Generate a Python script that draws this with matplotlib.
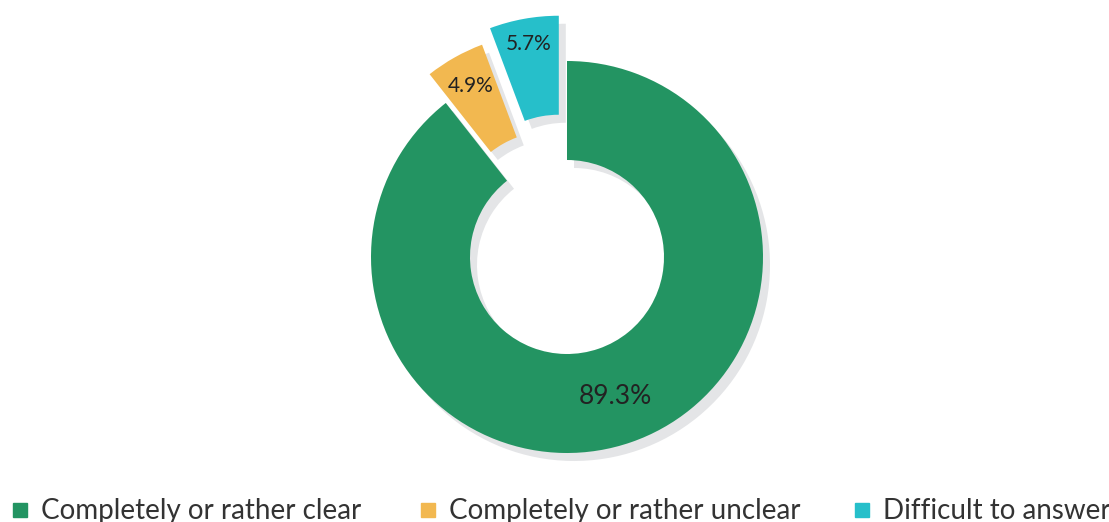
import numpy as np
import matplotlib
matplotlib.use("Agg")
import matplotlib.pyplot as plt
from matplotlib.patches import Rectangle

labels = ["Completely or rather clear", "Completely or rather unclear", "Difficult to answer"]
values = [89.3, 4.9, 5.7]
colors = ["#239462", "#f2b850", "#26bfca"]
explode = [0, 33, 46]          # pixels of pull-out
label_r = [0.755, 0.83, 0.87]  # radial position of value labels

W, H = 1109, 522
cx, cy, R, ring = 567, H - 257, 196, 99

fig = plt.figure(figsize=(W / 100, H / 100), dpi=100)
ax = fig.add_axes([0, 0, 1, 1])

# soft gray shadow, shifted right/down
ax.pie(values, startangle=90, counterclock=False, radius=R, center=(cx + 7, cy - 8),
       explode=explode, colors=["#e4e5e7"] * 3, wedgeprops=dict(width=ring, edgecolor="none"),
       frame=True)
wedges, _ = ax.pie(values, startangle=90, counterclock=False, radius=R, center=(cx, cy),
                   explode=explode, colors=colors, wedgeprops=dict(width=ring, edgecolor="none"),
                   frame=True)
ax.set_xlim(0, W); ax.set_ylim(0, H); ax.set_aspect("equal"); ax.axis("off")

for w, v, f, fs in zip(wedges, values, label_r, [19, 15, 15]):
    a = np.deg2rad((w.theta1 + w.theta2) / 2)
    x0, y0 = w.center
    ax.text(x0 + f * R * np.cos(a), y0 + f * R * np.sin(a), f"{v:.1f}%",
            ha="center", va="center", fontsize=fs, family="Lato", color="#222222")

# legend
for x, lab, c in zip([13, 421, 855], labels, colors):
    fig.patches.append(Rectangle((x / W, (H - 517) / H), 14 / W, 14 / H,
                                 transform=fig.transFigure, color=c))
    fig.text((x + 28) / W, (H - 519) / H, lab, fontsize=20, family="Lato",
             color="#333333", va="baseline", ha="left")

fig.savefig("out.png", dpi=100)
